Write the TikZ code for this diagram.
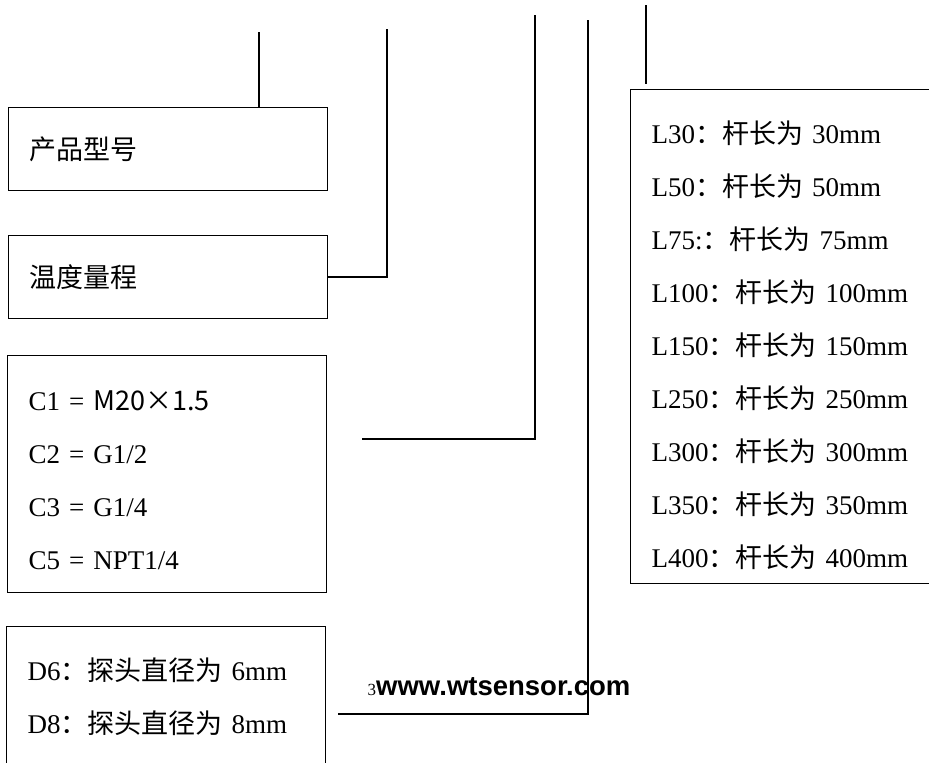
\documentclass[tikz,border=0pt]{standalone}
\usepackage{fontspec}
\setmainfont{Liberation Serif}
\setsansfont{Liberation Sans}
\newfontfamily\cjk{Noto Sans CJK SC}
\newcommand{\zh}[1]{{\cjk #1}}

\begin{document}
\begin{tikzpicture}[x=1pt,y=-1pt,line width=1.4pt,
  code box/.style={draw,rectangle,anchor=north west,align=left,inner xsep=21pt,
    font=\fontsize{27}{53}\selectfont},
  lead/.style={line width=1.3pt}]
  \clip (0,0) rectangle (929,763);
  % boxes
  \node[code box, text width=277pt, minimum height=83pt] (model) at (8,107) {\zh{产品型号}};
  \node[code box, text width=277pt, minimum height=83pt] (range) at (8,235) {\zh{温度量程}};
  \node[code box, text width=277pt, minimum height=237pt] (thread) at (7,355)
    {\rule{0pt}{32pt}C1 = \zh{M20×1.5}\\C2 = G1/2\\C3 = G1/4\\C5 = NPT1/4};
  \node[code box, text width=277pt, minimum height=200pt] (probe) at (6,626)
    {D6\zh{：探头直径为} 6mm\\D8\zh{：探头直径为} 8mm\rule[-63pt]{0pt}{63pt}};
  \node[code box, text width=300pt, minimum height=494pt] (length) at (630,89)
    {\rule{0pt}{39pt}L30\zh{：杆长为} 30mm\\L50\zh{：杆长为} 50mm\\L75:\zh{：杆长为} 75mm\\
     L100\zh{：杆长为} 100mm\\L150\zh{：杆长为} 150mm\\L250\zh{：杆长为} 250mm\\
     L300\zh{：杆长为} 300mm\\L350\zh{：杆长为} 350mm\\L400\zh{：杆长为} 400mm};
  \node[anchor=base west, inner sep=0pt] (web) at (367,695)
    {{\fontsize{17}{17}\selectfont 3}{\sffamily\bfseries\fontsize{27.5}{27.5}\selectfont www.wtsensor.com}};
  % leads
  \coordinate (t1) at (259,32);
  \coordinate (t2) at (387,29);
  \coordinate (t3) at (535,15);
  \coordinate (c3) at (362,439);
  \coordinate (t4) at (588,20);
  \coordinate (c4) at (338,714);
  \coordinate (t5) at (646,5);
  \draw[lead, line width=2.4pt] (t1) -- (t1 |- model.north);
  \draw[lead, line width=2pt] (range.east) -- (range.east -| t2) -- (t2);
  \draw[lead] (c3) -- (c3 -| t3) -- (t3);
  \draw[lead] (c4) -- (c4 -| t4) -- (t4);
  \draw[lead, shorten >=5pt] (t5) -- (t5 |- length.north);
\end{tikzpicture}
\end{document}
